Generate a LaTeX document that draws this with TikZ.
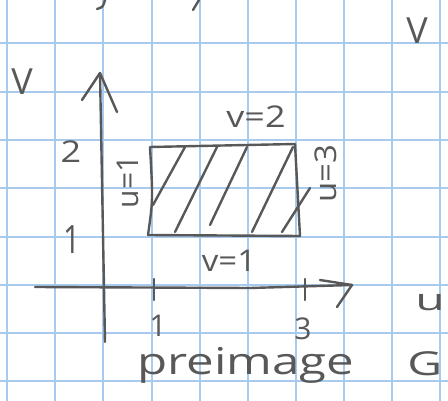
\documentclass[tikz,border=0pt]{standalone}
\usepackage{fontspec}
\setmainfont{Open Sans}
\definecolor{ink}{RGB}{88,88,88}
\definecolor{gridblue}{RGB}{168,202,236}
\begin{document}
\begin{tikzpicture}[x=1pt,y=-1pt,
  pen/.style={draw=ink, line width=2.4pt, line cap=round, line join=round},
  gridline/.style={draw=gridblue, line width=1.3pt},
  lbl/.style={text=ink, inner sep=0pt, font=\fontsize{30}{34}\selectfont},
  biglbl/.style={text=ink, inner sep=0pt, font=\fontsize{37}{40}\selectfont}]
\useasboundingbox (0,0) rectangle (448,401);
\clip (0,0) rectangle (448,401);
\fill[white] (0,0) rectangle (448,401);
% graph paper
\foreach \x in {7,55,103,152,200,248,296,344,392,440}
  \draw[gridline] (\x,0) -- (\x,401);
\foreach \y in {-5,43,92,140,188,237,285,333,381}
  \draw[gridline] (0,\y) -- (448,\y);
% cut-off strokes at top
\draw[pen] (97,9) .. controls (103,7) .. (105,0);
\draw[pen] (193,10) -- (199,0);
% axes
\coordinate (vbot) at (105,342);
\coordinate (vtip) at (100,73);
\coordinate (vl) at (82,100);
\coordinate (vr) at (117,112);
\draw[pen] (vbot) -- (vtip);
\draw[pen] (vl) -- (vtip) -- (vr);
\coordinate (ustart) at (35,287);
\coordinate (utip) at (352,285);
\coordinate (uu) at (320,280);
\coordinate (ud) at (337,307);
\draw[pen] (ustart) -- (250,288) -- (utip);
\draw[pen] (uu) -- (utip) -- (ud);
% ticks
\coordinate (t1a) at (154,279); \coordinate (t1b) at (154,300);
\coordinate (t3a) at (305,279); \coordinate (t3b) at (305,300);
\draw[pen] (t1a) -- (t1b);
\draw[pen] (t3a) -- (t3b);
% rectangle
\coordinate (tl) at (150,147);
\coordinate (tr) at (295,144);
\coordinate (br) at (300,236);
\coordinate (bl) at (148,235);
\draw[pen] (tl) -- (tr) -- (br) -- (bl) .. controls (153,200) .. (tl);
% hatching
\draw[pen] (153,205) -- (185,147);
\draw[pen] (175,232) -- (217,147);
\draw[pen] (210,225) -- (247,147);
\draw[pen] (252,232) -- (293,147);
\draw[pen] (282,232) -- (310,188);
% labels
\node[lbl, font=\fontsize{36}{40}\selectfont] (Vleft) at (22,82) {V};
\node[lbl, font=\fontsize{36}{40}\selectfont] (Vright) at (417,31) {V};
\node[lbl, xscale=1.2] (two) at (71,152) {2};
\node[lbl, yscale=1.3] (one) at (72,240) {1};
\node[lbl, xscale=1.2] (v2) at (256,117) {v=2};
\node[lbl, rotate=90] (u1) at (128,182) {u=1};
\node[lbl, rotate=90, xscale=1.1] (u3) at (326,174) {u=3};
\node[lbl, xscale=1.1] (v1) at (229,261) {v=1};
\node[lbl] (tick1) at (158,326) {1};
\node[lbl] (tick3) at (303,329) {3};
\node[lbl, xscale=1.6] (ulab) at (430,303) {u};
\node[biglbl, anchor=base west, xscale=1.33] (pre) at (137,375) {preimage};
\node[lbl, anchor=base west, xscale=1.45, font=\fontsize{33}{36}\selectfont] (G) at (407,376) {G};
\end{tikzpicture}
\end{document}
